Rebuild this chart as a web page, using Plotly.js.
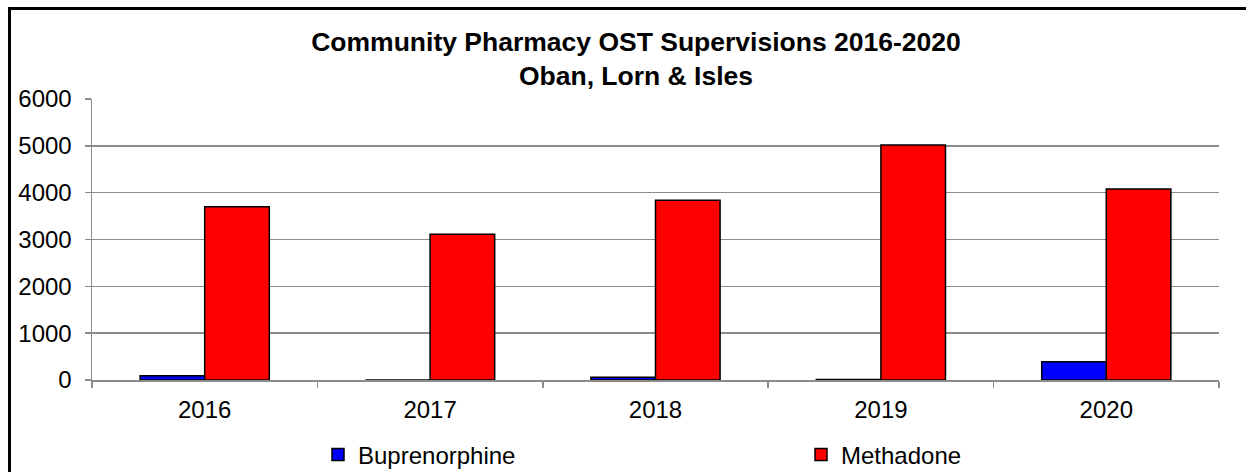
<!DOCTYPE html>
<html>
<head>
<meta charset="utf-8">
<script src="https://cdn.plot.ly/plotly-3.0.1.min.js"></script>
<style>
  html, body { margin: 0; padding: 0; background: #fff; }
  #chart { width: 1246px; height: 472px; }
</style>
</head>
<body>
<div id="chart"></div>
<script>
// Data
var years = ['2016', '2017', '2018', '2019', '2020'];
var buprenorphine = [90, 0, 60, 10, 390];
var methadone = [3700, 3110, 3840, 5020, 4080];
var yTicks = [0, 1000, 2000, 3000, 4000, 5000, 6000];

var W = 1246, H = 472;
var M = { l: 92, r: 27, t: 99, b: 92 };
var plotW = W - M.l - M.r, plotH = H - M.t - M.b;
function px2x(p) { return (p - M.l) / plotW; }
function px2y(p) { return (H - M.b - p) / plotH; }

var FONT = 'Liberation Sans, Arial, sans-serif';
var GRID = '#8c8c8c';

var traces = [
  {
    type: 'bar', name: 'Buprenorphine', x: years, y: buprenorphine,
    marker: { color: '#0000ff', line: { color: '#000', width: 1.5 } },
    legend: 'legend', hoverinfo: 'x+y+name'
  },
  {
    type: 'bar', name: 'Methadone', x: years, y: methadone,
    marker: { color: '#ff0000', line: { color: '#000', width: 1.5 } },
    legend: 'legend2', hoverinfo: 'x+y+name'
  }
];

var legendFont = { family: FONT, size: 24, color: '#000' };

var layout = {
  width: W, height: H,
  margin: M,
  paper_bgcolor: '#fff', plot_bgcolor: '#fff',
  font: { family: FONT, color: '#000' },
  title: {
    text: 'Community Pharmacy OST Supervisions 2016-2020<br>Oban, Lorn &amp; Isles',
    font: { family: FONT, size: 26.5, color: '#000', weight: 'bold' },
    xref: 'paper', x: px2x(636), xanchor: 'center',
    yref: 'container', y: 1 - 51 / H, yanchor: 'top',
    automargin: false
  },
  barmode: 'group', bargap: 0.427, bargroupgap: 0,
  xaxis: {
    type: 'category',
    showline: true, linecolor: GRID, linewidth: 1.5,
    ticks: 'outside', tickson: 'boundaries', ticklen: 6, tickcolor: GRID, tickwidth: 1.5,
    showgrid: false, zeroline: false,
    tickfont: { family: FONT, size: 24, color: '#000' },
    ticklabelstandoff: 8,
    automargin: false
  },
  yaxis: {
    range: [0, 6000], tickvals: yTicks, ticktext: yTicks.map(String),
    showline: true, linecolor: GRID, linewidth: 1.5,
    ticks: 'outside', ticklen: 6, tickcolor: GRID, tickwidth: 1.5,
    showgrid: true, gridcolor: GRID, gridwidth: 1.5,
    zeroline: false,
    tickfont: { family: FONT, size: 24, color: '#000' },
    ticklabelstandoff: 8,
    automargin: false
  },
  showlegend: true,
  legend: {
    orientation: 'h', font: legendFont, bgcolor: 'rgba(0,0,0,0)',
    xref: 'container', x: 318 / W, xanchor: 'left',
    yref: 'container', y: 1 - 455 / H, yanchor: 'middle'
  },
  legend2: {
    orientation: 'h', font: legendFont, bgcolor: 'rgba(0,0,0,0)',
    xref: 'container', x: 801 / W, xanchor: 'left',
    yref: 'container', y: 1 - 455 / H, yanchor: 'middle'
  },
  shapes: [
    {
      type: 'rect', xref: 'paper', yref: 'paper',
      x0: px2x(9.5), x1: px2x(W + 20), y0: px2y(H + 20), y1: px2y(8.5),
      line: { color: '#000', width: 3 }, fillcolor: 'rgba(0,0,0,0)', layer: 'above'
    }
  ]
};

Plotly.newPlot('chart', traces, layout, { displayModeBar: false, staticPlot: true });
</script>
</body>
</html>
